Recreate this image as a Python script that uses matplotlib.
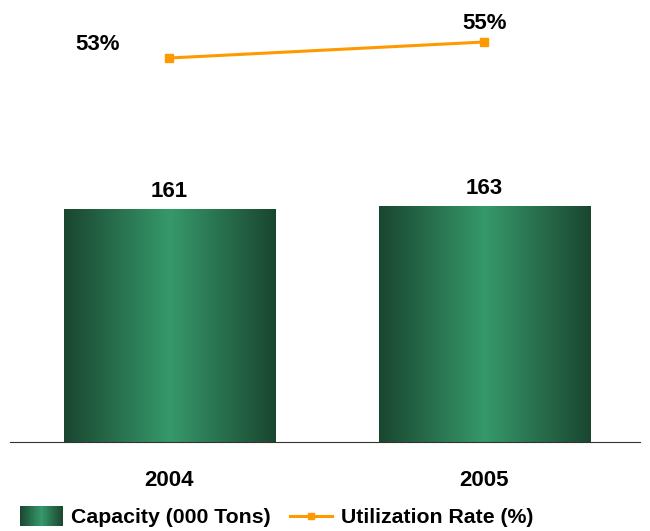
import matplotlib.pyplot as plt
import numpy as np
from matplotlib.colors import LinearSegmentedColormap
from matplotlib.legend_handler import HandlerBase
from matplotlib.patches import Rectangle
from matplotlib.lines import Line2D

plt.rcParams['font.family'] = ['Liberation Sans', 'DejaVu Sans']

# dados
anos = ['2004', '2005']
capacidade = [161, 163]
utilizacao = [53, 55]

verde_escuro = '#1a4630'
verde_claro = '#36996b'
laranja = '#ff9900'
cmap = LinearSegmentedColormap.from_list('barra', [verde_escuro, verde_claro, verde_escuro])
grad = np.linspace(0, 1, 256).reshape(1, -1)

fig = plt.figure(figsize=(6.5, 5.31), dpi=100)
ax = fig.add_axes([10 / 650, 89 / 531, 630 / 650, 432 / 531])
x = np.arange(len(anos))

barras = ax.bar(x, capacidade, width=0.67, color='none', edgecolor='none', zorder=2)
for b, v in zip(barras, capacidade):
    x0, y0 = b.get_x(), b.get_y()
    ax.imshow(grad, cmap=cmap, aspect='auto', zorder=2,
              extent=(x0, x0 + b.get_width(), y0, y0 + b.get_height()))
    ax.text(b.get_x() + b.get_width() / 2, v + 5, str(v), ha='center', va='bottom',
            fontsize=16, fontweight='bold')

ax.set_xlim(-0.506, 1.494)
ax.set_ylim(0, 299)
for s in ['top', 'left', 'right']:
    ax.spines[s].set_visible(False)
ax.spines['bottom'].set_color('#333333')
ax.set_yticks([])
ax.set_xticks(x)
ax.set_xticklabels(anos, fontsize=16, fontweight='bold')
ax.tick_params(axis='x', length=0, pad=20)

ax2 = ax.twinx()
ax2.plot(x, utilizacao, color=laranja, lw=2.2, marker='s', markersize=6, zorder=3)
ax2.set_ylim(5, 59)
ax2.set_yticks([])
for s in ax2.spines.values():
    s.set_visible(False)
offsets = [(-52, 2), (0, 6)]
for xi, v, off in zip(x, utilizacao, offsets):
    ax2.annotate(f'{v}%', (xi, v), xytext=off, textcoords='offset points',
                 ha='center', va='bottom', fontsize=16, fontweight='bold')


class GradHandler(HandlerBase):
    def create_artists(self, legend, orig_handle, xdescent, ydescent, width, height, fontsize, trans):
        n = 30
        arts = []
        for i in range(n):
            c = cmap((i + 0.5) / n)
            arts.append(Rectangle((-xdescent + i * width / n, -ydescent - 2), width / n * 1.05,
                                  height + 4, facecolor=c, edgecolor='none', transform=trans))
        return arts


h1 = Rectangle((0, 0), 1, 1)
h2 = Line2D([], [], color=laranja, lw=2.2, marker='s', markersize=5)
fig.legend([h1, h2], ['Capacity (000 Tons)', 'Utilization Rate (%)'],
           handler_map={Rectangle: GradHandler()},
           loc='center left', bbox_to_anchor=(1 / 650, 0.025), ncol=2, frameon=False,
           prop={'size': 15.3, 'weight': 'bold'}, handlelength=2.0, handletextpad=0.4,
           columnspacing=0.9)

fig.savefig('out.png', dpi=100)
